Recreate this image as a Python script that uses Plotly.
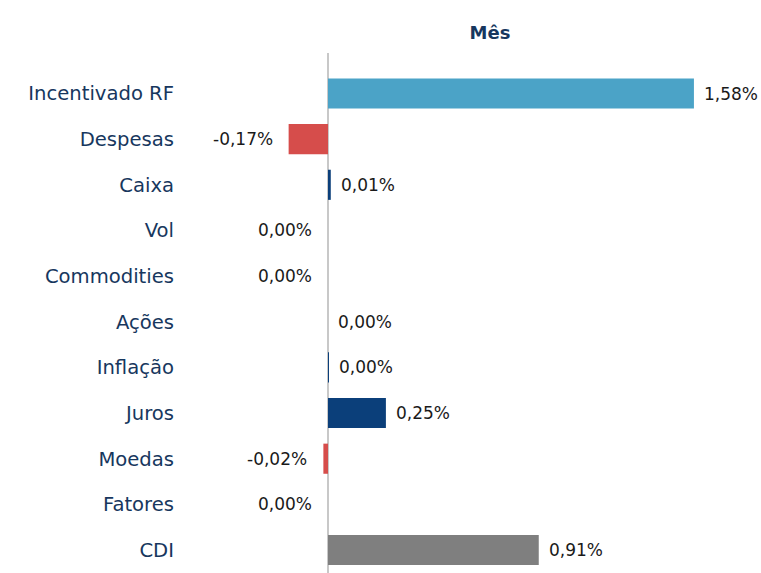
import math
import plotly.graph_objects as go

categories = ["Incentivado RF", "Despesas", "Caixa", "Vol", "Commodities", "Ações",
              "Inflação", "Juros", "Moedas", "Fatores", "CDI"]
values = [1.58, -0.17, 0.012, -0.0, -0.0, 0.0, 0.003, 0.25, -0.02, -0.0, 0.91]
colors = ["#4BA3C7", "#D64D4B", "#0B3F7A", "#0B3F7A", "#0B3F7A", "#0B3F7A",
          "#0B3F7A", "#0B3F7A", "#D64D4B", "#0B3F7A", "#7F7F7F"]


def fmt(v):
    s = f"{v:.2f}"
    if s == "-0.00":
        s = "0.00"
    return s.replace(".", ",") + "%"


labels = [fmt(v) for v in values]
ypos = list(range(len(categories)))

W = 761
H = 573
zero_px = 328
px_per_unit = 231.6
left_px = 185
top_px = 53
spacing = 45.65

fig = go.Figure()
fig.add_trace(go.Bar(
    y=ypos, x=values, orientation="h",
    marker=dict(color=colors, line=dict(width=0)),
    width=0.66, hoverinfo="skip",
))

for y, v, t in zip(ypos, values, labels):
    neg = math.copysign(1, v) < 0
    fig.add_annotation(
        x=v, y=y, xref="x", yref="y", text=t, showarrow=False,
        xanchor="right" if neg else "left",
        xshift=-14 if neg else 8,
        font=dict(family="DejaVu Sans", size=17, color="#1a1a1a"),
    )

ytop = -40.5 / spacing
ybot = ytop + (H - top_px) / spacing

fig.update_layout(
    width=W, height=H,
    margin=dict(l=left_px, r=0, t=top_px, b=0),
    paper_bgcolor="white", plot_bgcolor="white",
    showlegend=False,
    title=dict(text="<b>Mês</b>", xref="container", yref="container",
               x=490 / W, y=1 - 33 / H, xanchor="center", yanchor="middle",
               font=dict(family="DejaVu Sans", size=18, color="#17375E")),
    xaxis=dict(range=[(left_px - zero_px) / px_per_unit, (W - zero_px) / px_per_unit],
               showgrid=False, showticklabels=False, ticks="",
               zeroline=True, zerolinecolor="#C8C8C8", zerolinewidth=1.5,
               fixedrange=True),
    yaxis=dict(range=[ybot, ytop], tickmode="array", tickvals=ypos,
               ticktext=categories, showgrid=False, zeroline=False, ticks="",
               ticklabelstandoff=10,
               tickfont=dict(family="DejaVu Sans", size=19.6, color="#17375E"),
               fixedrange=True),
)

fig.write_html("out.html",
               config={"displayModeBar": False},
               post_script="document.body.style.margin='0';"
                           "document.documentElement.style.overflow='hidden';")
